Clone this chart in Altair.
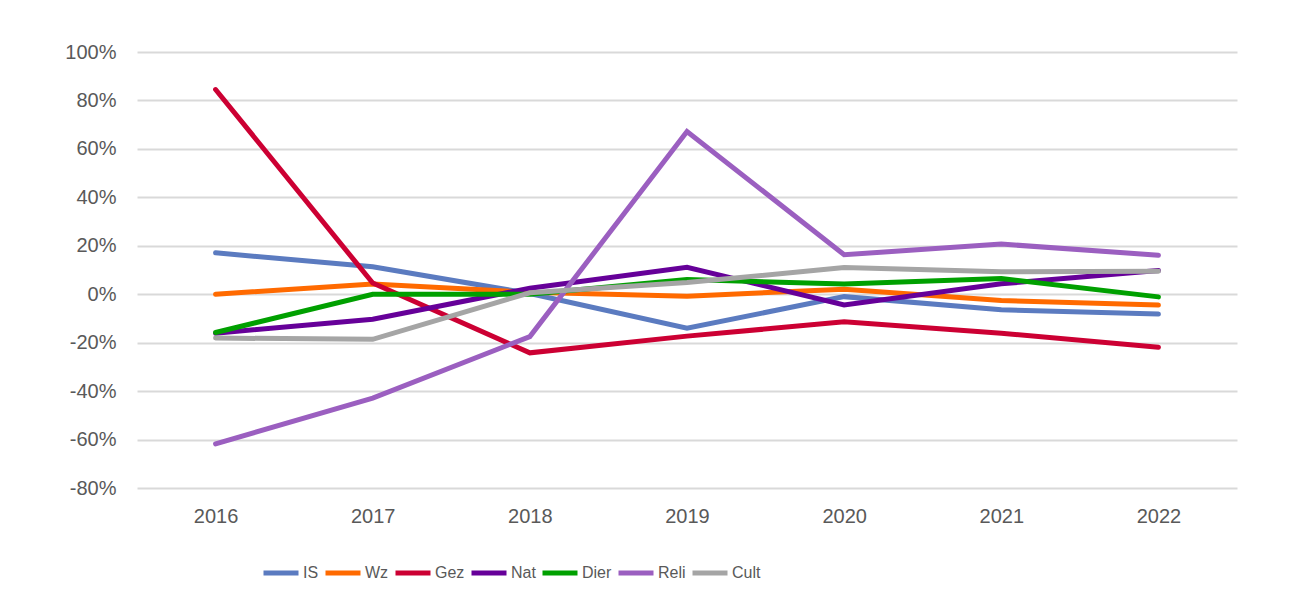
import altair as alt
import pandas as pd

years = ["2016", "2017", "2018", "2019", "2020", "2021", "2022"]
series = ["IS", "Wz", "Gez", "Nat", "Dier", "Reli", "Cult"]
colors = ["#5B7BC0", "#FF6A00", "#CC0033", "#660099", "#00A000", "#9B5FC0", "#A5A5A5"]

IS = [17.1, 11.3, 0.3, -14.0, -1.0, -6.4, -8.2]
Wz = [0.0, 4.2, 0.8, -0.8, 2.1, -2.6, -4.5]
Gez = [84.5, 4.6, -24.2, -17.3, -11.4, -16.1, -21.9]
Nat = [-16.1, -10.3, 2.5, 11.1, -4.4, 4.3, 9.8]
Dier = [-15.8, 0.0, 0.0, 6.1, 4.2, 6.5, -1.1]
Reli = [-61.8, -42.9, -17.5, 67.2, 16.3, 20.7, 16.1]
Cult = [-18.1, -18.6, 0.6, 4.8, 11.0, 9.3, 9.5]

values = {"IS": IS, "Wz": Wz, "Gez": Gez, "Nat": Nat, "Dier": Dier, "Reli": Reli, "Cult": Cult}

rows = []
for s in series:
    for y, v in zip(years, values[s]):
        rows.append({"Jaar": y, "Reeks": s, "Waarde": v})
df = pd.DataFrame(rows)

text_color = "#595959"
font = "Liberation Sans"

chart = alt.Chart(df).mark_line(
    strokeWidth=5, strokeCap="round", strokeJoin="miter"
).encode(
    x=alt.X(
        "Jaar:O",
        sort=years,
        scale=alt.Scale(type="point", padding=0.5),
        axis=alt.Axis(
            title=None, labelAngle=0, ticks=False, tickSize=0, domain=False,
            labelPadding=18, labelFontSize=20, labelColor=text_color, labelFont=font,
            grid=False,
        ),
    ),
    y=alt.Y(
        "Waarde:Q",
        scale=alt.Scale(domain=[-80, 100], nice=False, zero=False),
        axis=alt.Axis(
            title=None, values=[-80, -60, -40, -20, 0, 20, 40, 60, 80, 100],
            labelExpr="datum.value + '%'", ticks=False, tickSize=0, domain=False,
            labelPadding=21, labelFontSize=20, labelColor=text_color, labelFont=font,
            grid=True, gridColor="#D9D9D9", gridWidth=2,
        ),
    ),
    color=alt.Color(
        "Reeks:N",
        sort=series,
        scale=alt.Scale(domain=series, range=colors),
        legend=alt.Legend(
            title=None, orient="none", direction="horizontal",
            legendX=124, legendY=501,
            symbolType="stroke", symbolSize=1225, symbolStrokeWidth=5,
            labelFontSize=16, labelColor=text_color, labelFont=font,
            labelOffset=2, columnPadding=-4, padding=0,
        ),
    ),
    order=alt.Order("Jaar:O"),
).properties(
    width=1100,
    height=436,
    autosize=alt.AutoSizeParams(type="none"),
    padding={"left": 129, "top": 44, "right": 30, "bottom": 100},
).configure(
    background="white",
    view=alt.ViewConfig(stroke=None, strokeWidth=0),
)

chart.save("out.html", embed_options={"renderer": "svg", "actions": False})
